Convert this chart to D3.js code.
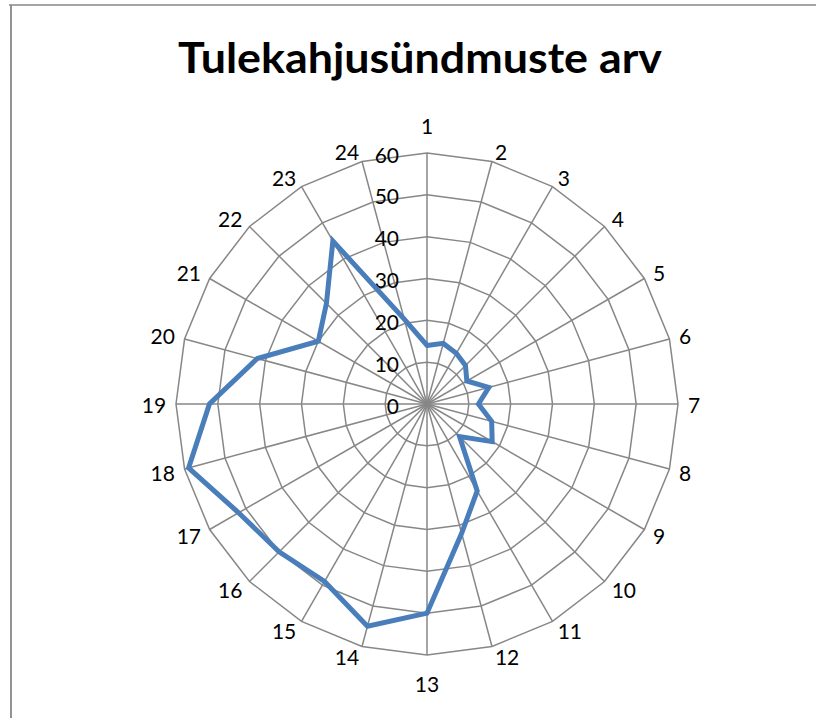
<!DOCTYPE html>
<html>
<head>
<meta charset="utf-8">
<script src="https://cdn.jsdelivr.net/npm/d3@7"></script>
<style>
  html, body { margin: 0; padding: 0; background: #fff; }
  svg { display: block; }
</style>
</head>
<body>
<svg id="chart" width="816" height="718"></svg>
<script>
const title = "Tulekahjusündmuste arv";
const categories = ["1","2","3","4","5","6","7","8","9","10","11","12","13","14","15","16","17","18","19","20","21","22","23","24"];
const values = [14, 15, 14, 13, 11, 15.3, 12.3, 16, 18, 11, 24, 32, 50, 55, 49, 50, 52, 59, 52, 42, 30, 34, 45, 21];
const tickValues = [0, 10, 20, 30, 40, 50, 60];

const W = 816, H = 718;
const cx = 427, cy = 404, R = 251;
const svg = d3.select("#chart");
const FONT = "Lato, 'Open Sans', sans-serif";
const gridColor = "#878787";

// frame
svg.append("line").attr("x1", 9).attr("x2", W).attr("y1", 5).attr("y2", 5)
  .attr("stroke", gridColor).attr("stroke-width", 1.5);
svg.append("line").attr("x1", 11).attr("x2", 11).attr("y1", 5).attr("y2", H)
  .attr("stroke", gridColor).attr("stroke-width", 1.8);

// title
const t = svg.append("text").attr("x", 420).attr("y", 73)
  .attr("text-anchor", "middle").attr("font-family", FONT)
  .attr("font-weight", "bold").attr("font-size", 42).attr("fill", "#000")
  .text(title);
const tl = t.node().getComputedTextLength();
if (Math.abs(tl - 484) > 4) t.attr("textLength", 484).attr("lengthAdjust", "spacingAndGlyphs");

const g = svg.append("g").attr("transform", `translate(${cx},${cy})`);
const r = d3.scaleLinear().domain([0, 60]).range([0, R]);
const angle = d3.scalePoint().domain(categories).range([0, 2 * Math.PI * (23 / 24)]);

// rings
const ringLine = d3.lineRadial().curve(d3.curveLinearClosed);
tickValues.filter(v => v > 0).forEach(v => {
  g.append("path")
    .attr("d", ringLine(categories.map(c => [angle(c), r(v)])))
    .attr("fill", "none").attr("stroke", gridColor).attr("stroke-width", 1.5);
});

// spokes
categories.forEach(c => {
  const a = angle(c);
  g.append("line").attr("x1", 0).attr("y1", 0)
    .attr("x2", R * Math.sin(a)).attr("y2", -R * Math.cos(a))
    .attr("stroke", gridColor).attr("stroke-width", 1.5);
});

// tick labels
tickValues.forEach(v => {
  g.append("text").attr("x", -28).attr("y", -r(v) + 1)
    .attr("text-anchor", "end").attr("dominant-baseline", "central")
    .attr("font-family", FONT).attr("font-size", 21).attr("fill", "#000")
    .text(v);
});

// category labels
const sgn = v => Math.abs(v) < 1e-6 ? 0 : Math.sign(v);
categories.forEach(c => {
  const a = angle(c);
  const s = Math.sin(a), co = Math.cos(a);
  const txt = g.append("text")
    .attr("text-anchor", "middle").attr("dominant-baseline", "central")
    .attr("font-family", FONT).attr("font-size", 21).attr("fill", "#000")
    .text(c);
  const tw = txt.node().getBBox().width;
  let x, y;
  if (sgn(s) === 0) {
    const d = R + 28;
    x = d * s; y = -d * co;
  } else {
    const d = R + 9.4;
    x = d * s + sgn(s) * (tw / 2 + 0.5);
    y = -d * co - sgn(co) * 1;
  }
  txt.attr("x", x).attr("y", y);
});

// data line
const dataLine = d3.lineRadial()
  .angle((d, i) => angle(categories[i]))
  .radius(d => r(d))
  .curve(d3.curveLinearClosed);
g.append("path").attr("d", dataLine(values))
  .attr("fill", "none").attr("stroke", "#4A7EBB").attr("stroke-width", 5)
  .attr("stroke-linejoin", "miter");
</script>
</body>
</html>
